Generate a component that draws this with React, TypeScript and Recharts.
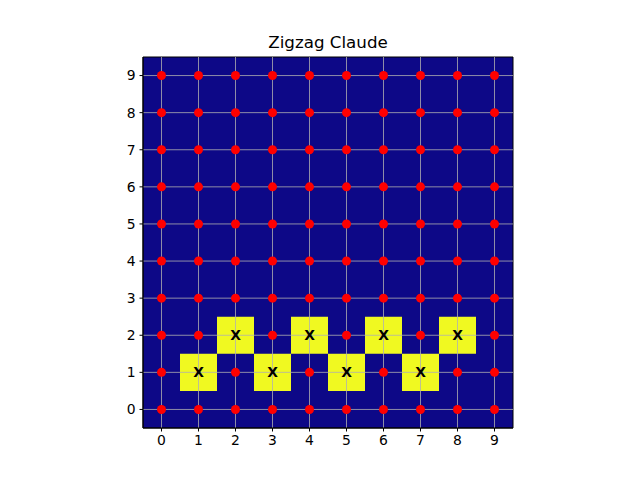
import React from "react";
import {
    ScatterChart,
    Scatter,
    XAxis,
    YAxis,
    ReferenceArea,
    ReferenceLine,
} from "recharts";

const title = "Zigzag Claude";
const gridXs = [0, 1, 2, 3, 4, 5, 6, 7, 8, 9];
const gridYs = [0, 1, 2, 3, 4, 5, 6, 7, 8, 9];
// zigzag cells (x, y) marked with an X
const zigzagCells: { x: number, y: number }[] = [
    { x: 1, y: 1 },
    { x: 2, y: 2 },
    { x: 3, y: 1 },
    { x: 4, y: 2 },
    { x: 5, y: 1 },
    { x: 6, y: 2 },
    { x: 7, y: 1 },
    { x: 8, y: 2 },
];
const markLabel = "X";

const dots = gridYs.flatMap((y) =>
    gridXs
        .filter((x) => !zigzagCells.some((c) => c.x === x && c.y === y))
        .map((x) => ({ x, y }))
);

const tickStyle = { fontSize: 13.9, fill: "#000", fontFamily: "DejaVu Sans" };

const App = () => {
    return (
        <div style={{ position: "absolute", left: 0, top: 0, width: 640, height: 480, background: "#fff" }}>
            <div
                style={{
                    position: "absolute",
                    left: 143,
                    width: 370,
                    top: 32,
                    textAlign: "center",
                    fontFamily: "DejaVu Sans",
                    fontSize: 16.7,
                    color: "#000",
                }}
            >{title}</div>
            <ScatterChart
                width={640}
                height={480}
                margin={{ top: 57, right: 127, bottom: 0, left: 0 }}
            >
                <XAxis
                    type="number"
                    dataKey="x"
                    domain={[-0.5, 9.5]}
                    ticks={gridXs}
                    allowDataOverflow
                    height={52}
                    stroke="#000"
                    tickSize={3.5}
                    tickMargin={4}
                    tick={tickStyle}
                />
                <YAxis
                    type="number"
                    dataKey="y"
                    domain={[-0.5, 9.5]}
                    ticks={gridYs}
                    allowDataOverflow
                    width={143}
                    stroke="#000"
                    tickSize={3.5}
                    tickMargin={4}
                    tick={tickStyle}
                />
                <ReferenceArea x1={-0.5} x2={9.5} y1={-0.5} y2={9.5} fill="#0d0887" fillOpacity={1} stroke="none" />
                {zigzagCells.map((c, i) => (
                    <ReferenceArea
                        key={i}
                        x1={c.x - 0.5}
                        x2={c.x + 0.5}
                        y1={c.y - 0.5}
                        y2={c.y + 0.5}
                        fill="#f0f921"
                        fillOpacity={1}
                        stroke="none"
                    />
                ))}
                {gridXs.map((x) => (
                    <ReferenceLine key={'gx' + x} x={x} stroke="#b0b0b0" strokeWidth={0.8} />
                ))}
                {gridYs.map((y) => (
                    <ReferenceLine key={'gy' + y} y={y} stroke="#b0b0b0" strokeWidth={0.8} />
                ))}
                <Scatter
                    data={dots}
                    isAnimationActive={false}
                    shape={(p: any) => <circle cx={p.cx} cy={p.cy} r={4.5} fill="#ff0000" />}
                />
                <Scatter
                    data={zigzagCells}
                    isAnimationActive={false}
                    shape={(p: any) => (
                        <text
                            x={p.cx}
                            y={p.cy}
                            textAnchor="middle"
                            dominantBaseline="central"
                            fontFamily="DejaVu Sans"
                            fontWeight="bold"
                            fontSize={13.9}
                            fill="#000"
                        >{markLabel}</text>
                    )}
                />
                <ReferenceArea x1={-0.5} x2={9.5} y1={-0.5} y2={9.5} fill="none" stroke="#000" strokeWidth={1} />
            </ScatterChart>
        </div>
    )
}

export default App
